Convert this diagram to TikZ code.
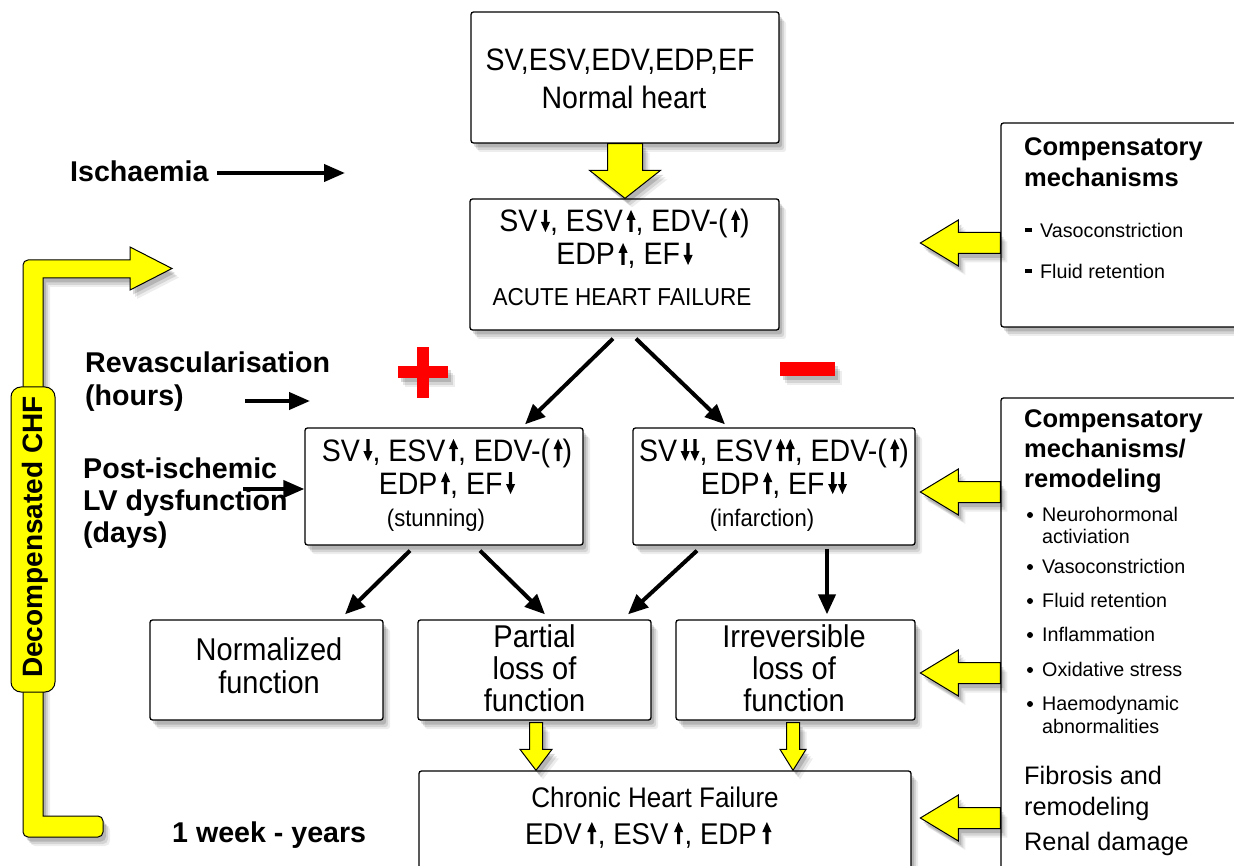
\documentclass[tikz,border=0pt]{standalone}
\usepackage{fontspec}
\setmainfont{Liberation Sans}
\newfontfamily\nf[FakeStretch=0.92]{Liberation Sans}
\usetikzlibrary{shadows,arrows.meta,calc}
\definecolor{yel}{HTML}{FFFF00}
\definecolor{redc}{HTML}{FF0000}
\newcommand\myfs[1]{\fontsize{#1}{#1}\selectfont}
\newcommand\ua{\kern3.5pt\tikz[x=1pt,y=1pt,baseline=0pt]\fill[black] (-1.6,0) -- (1.6,0) -- (1.6,12) -- (4.6,12) -- (0,22) -- (-4.6,12) -- (-1.6,12) -- cycle;}
\newcommand\da{\kern3.5pt\tikz[x=1pt,y=1pt,baseline=0pt]\fill[black] (-1.6,22) -- (1.6,22) -- (1.6,10) -- (4.6,10) -- (0,0) -- (-4.6,10) -- (-1.6,10) -- cycle;}
\newcommand\uab{\kern0.5pt\tikz[x=1pt,y=1pt,baseline=0pt]\fill[black] (-1.6,0) -- (1.6,0) -- (1.6,12) -- (4.6,12) -- (0,22) -- (-4.6,12) -- (-1.6,12) -- cycle;}
\newcommand\dab{\kern0.5pt\tikz[x=1pt,y=1pt,baseline=0pt]\fill[black] (-1.6,22) -- (1.6,22) -- (1.6,10) -- (4.6,10) -- (0,0) -- (-4.6,10) -- (-1.6,10) -- cycle;}
\newcommand\uaw{\kern5.5pt\tikz[x=1pt,y=1pt,baseline=0pt]\fill[black] (-1.6,0) -- (1.6,0) -- (1.6,12) -- (4.6,12) -- (0,22) -- (-4.6,12) -- (-1.6,12) -- cycle;\kern1.5pt}
\newcommand\ydown[5]{\draw[yblock] let \p1=(#1), \p2=(#2) in
  (\x1-#3pt,\y1) -- (\x1+#3pt,\y1) -- (\x1+#3pt,\y2+#5pt) -- (\x1+#4pt,\y2+#5pt) -- (\x1,\y2)
  -- (\x1-#4pt,\y2+#5pt) -- (\x1-#3pt,\y2+#5pt) -- cycle;}
\newcommand\yleft[1]{\draw[yblock] let \p1=(#1) in
  (\x1,\y1+10.5pt) -- (\x1-42pt,\y1+10.5pt) -- (\x1-42pt,\y1+23pt) -- (\x1-80pt,\y1)
  -- (\x1-42pt,\y1-23pt) -- (\x1-42pt,\y1-10.5pt) -- (\x1,\y1-10.5pt) -- cycle;}
\tikzset{
  sh/.style={drop shadow={shadow xshift=7pt,shadow yshift=-9pt,opacity=0.07,fill=black},
             drop shadow={shadow xshift=5pt,shadow yshift=-7pt,opacity=0.1,fill=black},
             drop shadow={shadow xshift=3pt,shadow yshift=-4.5pt,opacity=0.15,fill=black}},
  box/.style={draw=black, line width=1.3pt, fill=white, rounded corners=2.5pt, sh, inner sep=0pt},
  yblock/.style={draw=black, line width=1pt, fill=yel, line join=miter, sh},
  arr/.style={line width=4pt, -{Triangle[length=20pt,width=17pt]}},
  harr/.style={line width=4pt, -{Triangle[length=21pt,width=17pt]}},
  tb/.style={anchor=base, inner sep=0pt, font=\nf\myfs{31}},
  lb/.style={anchor=base west, inner sep=0pt, font=\myfs{28.6}\bfseries},
  rh/.style={anchor=base west, inner sep=0pt, font=\myfs{25.5}\bfseries},
  ri/.style={anchor=base west, inner sep=0pt, font=\myfs{19.7}},
  rl/.style={anchor=base west, inner sep=0pt, font=\myfs{25.3}},
  dot/.style={circle, fill=black, inner sep=0pt, minimum size=6pt},
}
\begin{document}
\begin{tikzpicture}[x=1pt,y=-1pt]
\useasboundingbox[fill=white] (0,0) rectangle (1234,866);

% ---------- left bracket ----------
\draw[yblock] (43,816) -- (43,278) -- (130,278) -- (130,290) -- (172,268.5) -- (130,247) -- (130,260)
  [rounded corners=5pt] -- (23,260) -- (23,837) -- (103,837) -- (103,816) [sharp corners] -- cycle;
\node[draw=black, line width=1pt, fill=yel, rounded corners=10pt, minimum width=44pt, minimum height=305pt, inner sep=0pt] (dlab) at (33,539.5) {};
\node[rotate=90, font=\myfs{28}\bfseries, inner sep=0pt] (dtext) at (35,537) {Decompensated CHF};

% ---------- boxes ----------
\node[box, minimum width=308pt, minimum height=131pt] (normal) at (625,77.5) {};
\node[box, minimum width=309pt, minimum height=131pt] (acute) at (624.5,264.5) {};
\node[box, minimum width=278pt, minimum height=117pt] (stun) at (444,486.5) {};
\node[box, minimum width=282pt, minimum height=117pt] (infarct) at (774,486.5) {};
\node[box, minimum width=233pt, minimum height=100pt] (normz) at (266.5,670) {};
\node[box, minimum width=233pt, minimum height=100pt] (partial) at (534.5,670) {};
\node[box, minimum width=239pt, minimum height=100pt] (irrev) at (795.5,670) {};
\node[box, minimum width=492pt, minimum height=120pt] (chronic) at (665,831) {};
\node[box, minimum width=244pt, minimum height=204pt] (comp1) at (1123,225) {};
\node[box, minimum width=244pt, minimum height=490pt] (comp2) at (1123,643) {};

% ---------- box texts ----------
\node[tb] (n1) at (620,71) {SV,ESV,EDV,EDP,EF};
\node[tb] (n2) at (624,109) {Normal heart};

\node[tb] (a1) at (624.5,232) {SV\da, ESV\ua, EDV-(\ua)};
\node[tb] (a2) at (624.5,265) {EDP\ua, EF\da};
\node[tb, font=\nf\myfs{24.5}] (a3) at (622,306) {ACUTE HEART FAILURE};

\node[tb] (s1) at (447,461) {SV\da, ESV\ua, EDV-(\ua)};
\node[tb] (s2) at (447,494) {EDP\ua, EF\da};
\node[tb, font=\nf\myfs{24}] (s3) at (436,526) {(stunning)};

\node[tb] (i1) at (774,461) {SV\da\dab, ESV\ua\uab, EDV-(\ua)};
\node[tb] (i2) at (774,494) {EDP\ua, EF\da\dab};
\node[tb, font=\nf\myfs{24}] (i3) at (762,526) {(infarction)};

\node[tb, font=\nf\myfs{31.5}] (z1) at (269,660) {Normalized};
\node[tb, font=\nf\myfs{31.5}] (z2) at (269,693) {function};

\node[tb, font=\nf\myfs{31.5}] (p1) at (534.5,647) {Partial};
\node[tb, font=\nf\myfs{31.5}] (p2) at (534.5,679) {loss of};
\node[tb, font=\nf\myfs{31.5}] (p3) at (534.5,711) {function};

\node[tb, font=\nf\myfs{31.5}] (r1) at (794,647) {Irreversible};
\node[tb, font=\nf\myfs{31.5}] (r2) at (794,679) {loss of};
\node[tb, font=\nf\myfs{31.5}] (r3) at (794,711) {function};

\node[tb, font=\nf\myfs{28.3}] (c1) at (655,807) {Chronic Heart Failure};
\node[tb, font=\nf\myfs{30}] (c2) at (649,844) {EDV\uaw, ESV\uaw, EDP\uaw};

% ---------- right box texts ----------
\node[rh] (k1) at (1024,156) {Compensatory};
\node[rh] (k2) at (1024,187) {mechanisms};
\fill (1025,228) rectangle (1032,232.5);
\node[ri] (k3) at (1040,238) {Vasoconstriction};
\fill (1025,269) rectangle (1032,273.5);
\node[ri] (k4) at (1040,279) {Fluid retention};

\node[rh] (m1) at (1024,427) {Compensatory};
\node[rh] (m2) at (1024,457) {mechanisms/};
\node[rh] (m3) at (1024,487) {remodeling};
\node[dot] (d1) at (1030,515) {};
\node[ri] (m4) at (1042,521) {Neurohormonal};
\node[ri] (m5) at (1042,543) {activiation};
\node[dot] (d2) at (1030,567) {};
\node[ri] (m6) at (1042,573) {Vasoconstriction};
\node[dot] (d3) at (1030,601) {};
\node[ri] (m7) at (1042,607) {Fluid retention};
\node[dot] (d4) at (1030,635) {};
\node[ri] (m8) at (1042,641) {Inflammation};
\node[dot] (d5) at (1030,670) {};
\node[ri] (m9) at (1042,676) {Oxidative stress};
\node[dot] (d6) at (1030,704) {};
\node[ri] (m10) at (1042,710) {Haemodynamic};
\node[ri] (m11) at (1042,733) {abnormalities};
\node[rl] (m12) at (1024,784) {Fibrosis and};
\node[rl] (m13) at (1024,815) {remodeling};
\node[rl] (m14) at (1024,850) {Renal damage};

% ---------- left labels ----------
\node[lb] (isch) at (70,182) {Ischaemia};
\node[lb] (rev1) at (85,373) {Revascularisation};
\node[lb] (rev2) at (85,406) {(hours)};
\node[lb] (pi1) at (83,478) {Post-ischemic};
\node[lb] (pi2) at (83,510) {LV dysfunction};
\node[lb] (pi3) at (83,542) {(days)};
\node[lb] (week) at (172,842) {1 week - years};

% ---------- plus / minus ----------
\fill[redc, sh] (398,366) rectangle (448,378);
\fill[redc] (417,347) rectangle (429,398);
\fill[redc, sh] (780,362) rectangle (835,376);

% ---------- black arrows ----------
\coordinate (ia) at (217,173);
\coordinate (ib) at (345,173);
\draw[harr] (ia) -- (ib);
\coordinate (ra) at (245,401);
\coordinate (rb) at (310,401);
\draw[harr] (ra) -- (rb);
\coordinate (pa) at (243,489);
\draw[harr] (pa) -- ([yshift=-2.5pt]stun.west);

\draw[arr] ([xshift=-11.5pt,yshift=-8pt]acute.south) -- ([xshift=81pt,yshift=3pt]stun.north);
\draw[arr] ([xshift=11.5pt,yshift=-8pt]acute.south) -- ([xshift=-49pt,yshift=3pt]infarct.north);
\draw[arr] ([xshift=-34pt,yshift=-5pt]stun.south) -- ([xshift=78.5pt,yshift=5pt]normz.north);
\draw[arr] ([xshift=36pt,yshift=-5pt]stun.south) -- ([xshift=10.5pt,yshift=5pt]partial.north);
\draw[arr] ([xshift=-77pt,yshift=-5pt]infarct.south) -- ([xshift=93.5pt,yshift=5pt]partial.north);
\draw[arr] ([xshift=53pt,yshift=-3pt]infarct.south) -- ([xshift=31.5pt,yshift=5pt]irrev.north);

% ---------- yellow block arrows ----------
\ydown{normal.south}{acute.north}{17.5}{35.5}{28}
\ydown{[xshift=1.5pt,yshift=-2pt]partial.south}{chronic.north}{6.5}{16}{21}
\ydown{[xshift=-2.5pt,yshift=-2pt]irrev.south}{chronic.north}{6.5}{13}{21}
\yleft{[yshift=-18pt]comp1.west}
\yleft{[yshift=151pt]comp2.west}
\yleft{[yshift=-30pt]comp2.west}
\yleft{[yshift=-175pt]comp2.west}
\end{tikzpicture}
\end{document}
